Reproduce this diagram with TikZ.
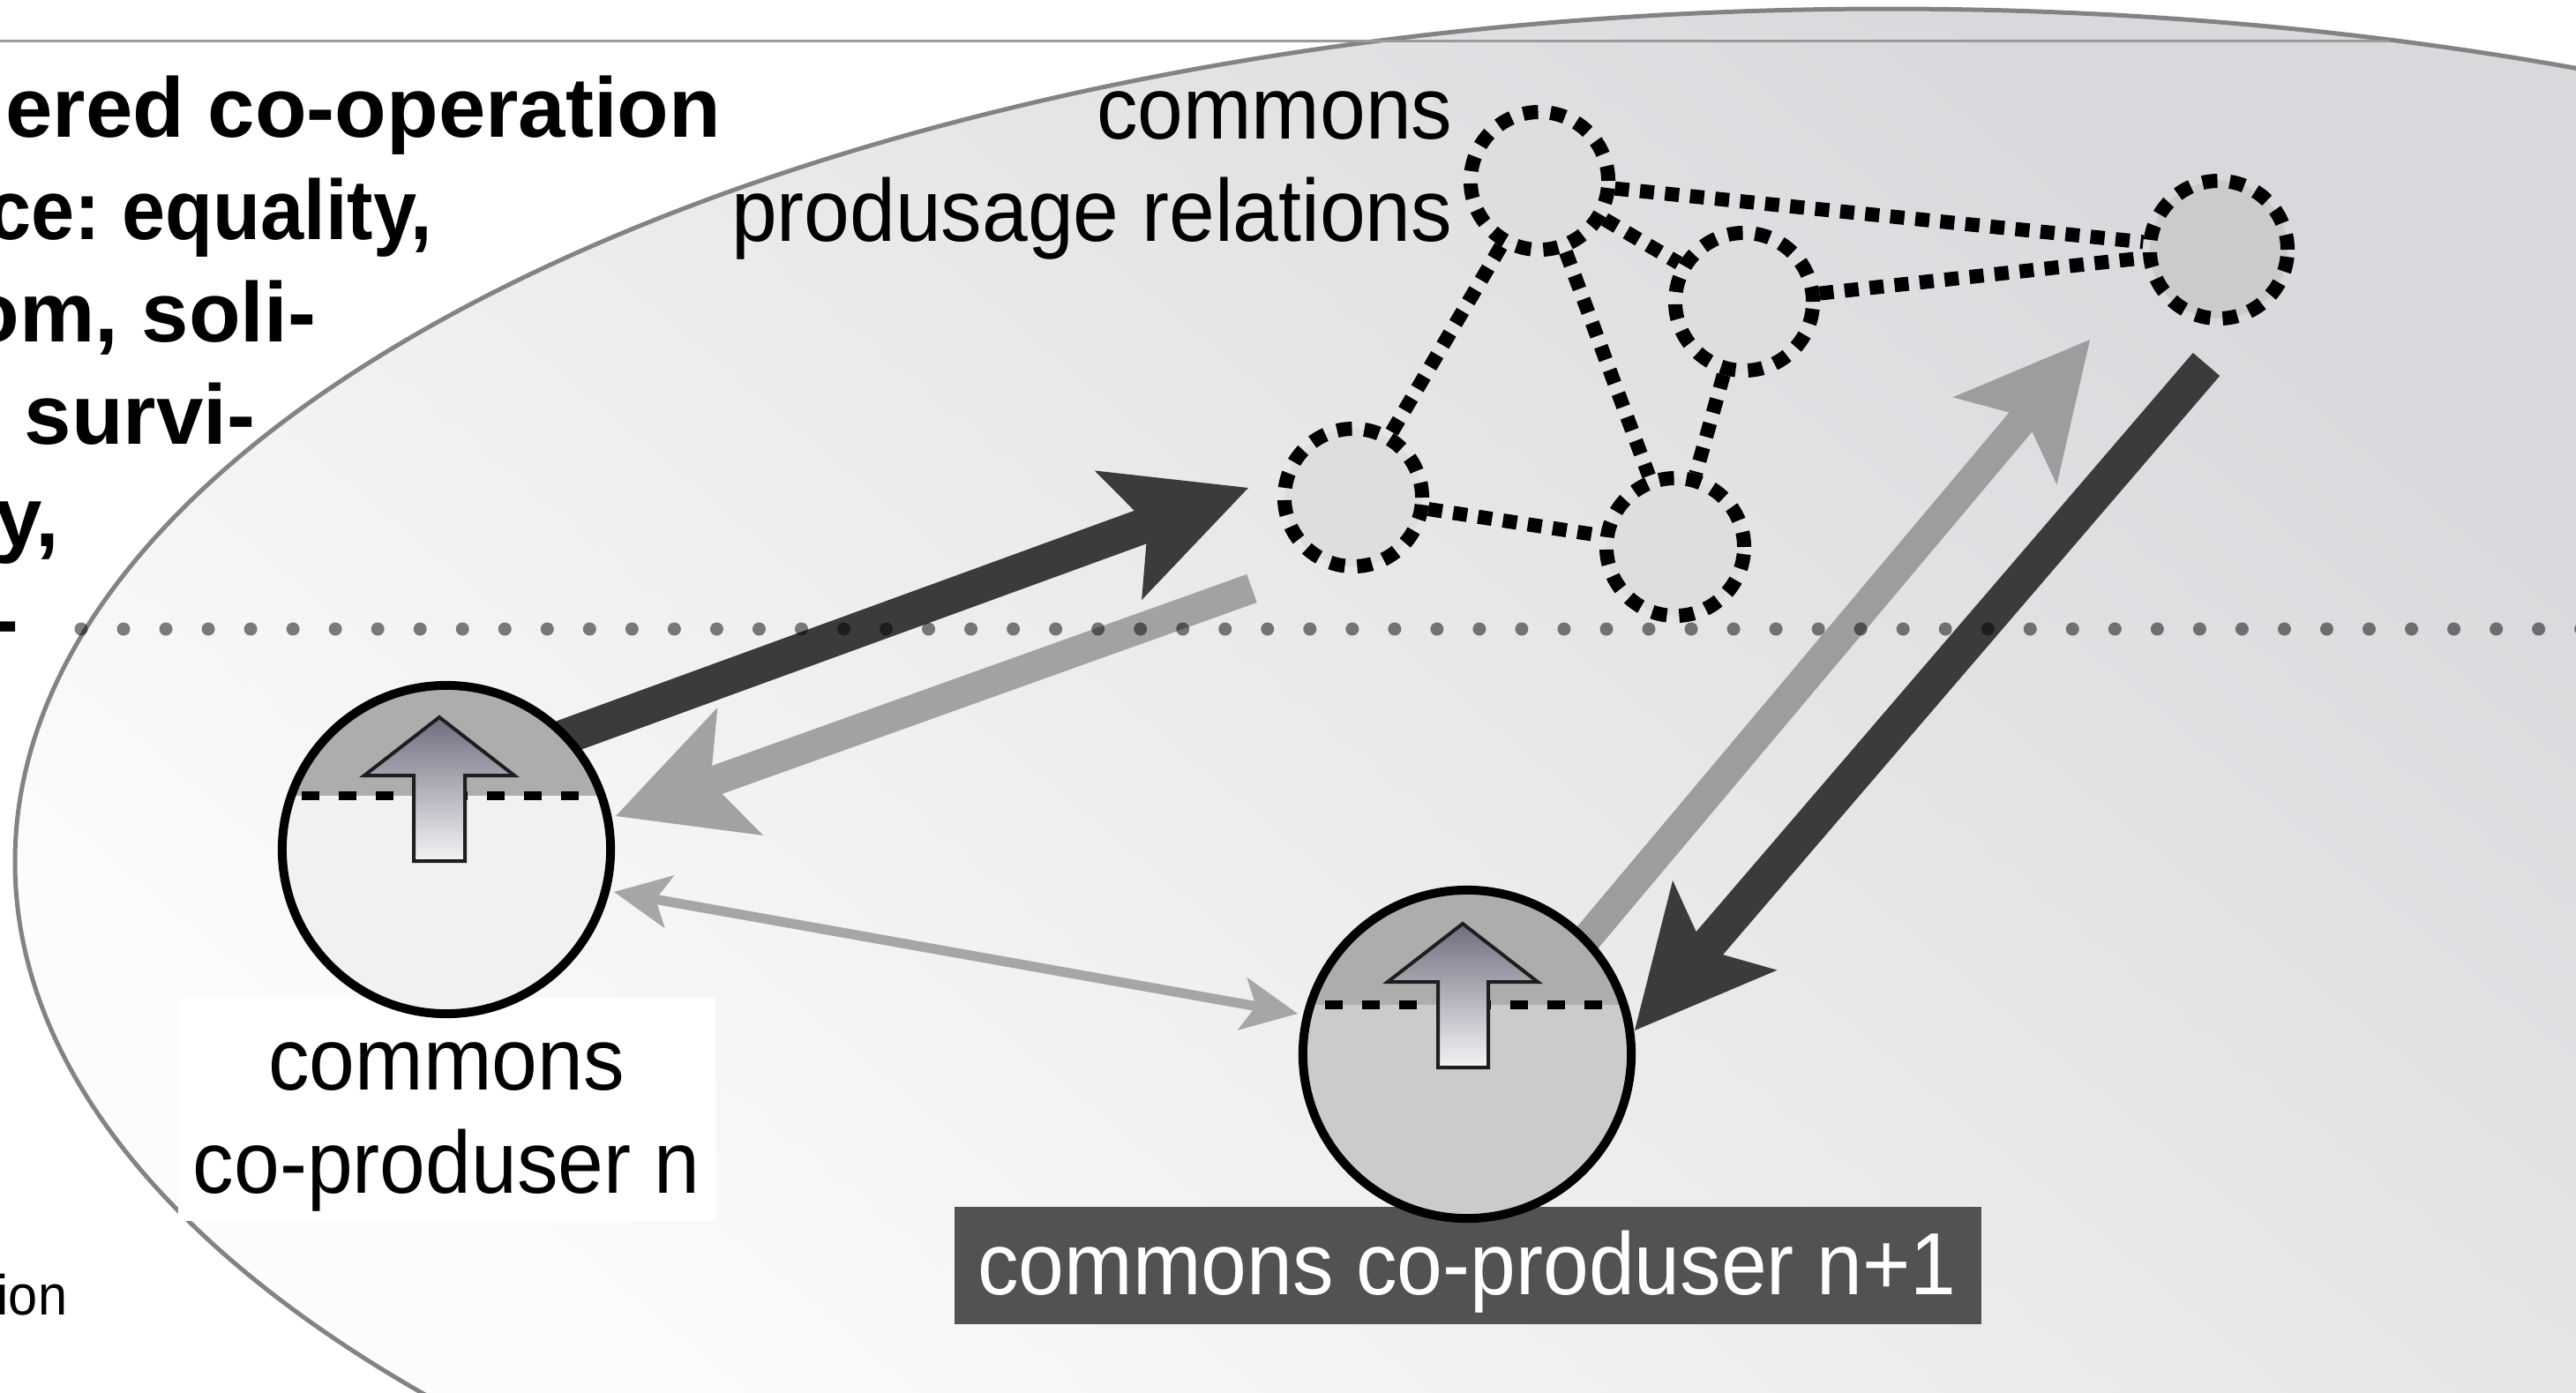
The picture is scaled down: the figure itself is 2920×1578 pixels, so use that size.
\documentclass[tikz,border=0pt]{standalone}
\usepackage{fontspec}
\setmainfont{Liberation Sans}
\newfontfamily\lblfont[FakeStretch=0.93]{Liberation Sans}
\usetikzlibrary{arrows.meta}
\definecolor{ellTop}{HTML}{D9D9DD}
\definecolor{ellBot}{HTML}{FCFCFC}
\definecolor{ellLine}{HTML}{838383}
\definecolor{topLine}{HTML}{9A9A9A}
\definecolor{darkArr}{HTML}{3B3B3B}
\definecolor{lightArr}{HTML}{A2A2A2}
\definecolor{thinArr}{HTML}{A6A6A6}
\definecolor{nodeFill}{HTML}{DEDEE0}
\definecolor{nodeFillB}{HTML}{CBCBCB}
\definecolor{capTop}{HTML}{ADADAD}
\definecolor{lowA}{HTML}{F1F1F1}
\definecolor{lowB}{HTML}{CBCBCB}
\definecolor{boxDark}{HTML}{525252}
\definecolor{upTop}{HTML}{6E6E80}
\definecolor{upBot}{HTML}{F4F4F6}
\definecolor{upLine}{HTML}{1E1E1E}
\frenchspacing
\begin{document}
\begin{tikzpicture}[x=0.01cm, y=-0.01cm,
  lbl/.style={inner sep=0pt, font={\lblfont\fontsize{28.45}{34}\selectfont}},
  ttl/.style={inner sep=0pt, anchor=base east, font={\bfseries\fontsize{27.3}{32}\selectfont}},
  smallnode/.style={circle, draw=black, fill=nodeFill, line width=1.6mm, dash pattern=on 1.7mm off 1.4mm, minimum size=1.56cm, inner sep=0pt},
  rel/.style={draw=black, line width=1.6mm, dash pattern=on 1.6mm off 1.25mm},
  bigcirc/.style={circle, draw=black, line width=1mm, minimum size=3.72cm, inner sep=0pt},
  chord/.style={draw=black, line width=1mm, dash pattern=on 2mm off 2.2mm},
  uparrow/.style={draw=upLine, line width=0.4mm, top color=upTop, bottom color=upBot},
  bigdark/.style={draw=darkArr, line width=4mm, -{Stealth[length=15.7mm, width=15.6mm, inset=3.6mm, line width=0pt]}},
  biglight/.style={draw=lightArr, line width=3.4mm, -{Stealth[length=15mm, width=15.4mm, inset=3.6mm, line width=0pt]}},
  thinlight/.style={draw=thinArr, line width=1.1mm, {Stealth[length=6.4mm, width=6.1mm, inset=1.6mm, line width=0pt]}-{Stealth[length=6.4mm, width=6.1mm, inset=1.6mm, line width=0pt]}},
]
\fill[white] (0,0) rectangle (2920,1578);
\useasboundingbox (0,0) rectangle (2920,1578);
\clip (0,0) rectangle (2920,1578);
% background ellipse
\begin{scope}
  \clip (2140,977) ellipse [x radius=2123, y radius=967];
  \shade[top color=ellTop, bottom color=ellBot, shading angle=-40] (0,0) rectangle (2920,1578);
\end{scope}
\draw[ellLine, line width=0.5mm] (2140,977) ellipse [x radius=2123, y radius=967];
\coordinate (tl0) at (0,46);
\coordinate (tl1) at (2708,46);
\draw[topLine, line width=0.3mm] (tl0) -- (tl1);
% title fragments
\node[ttl] (t1) at (818,155) {ered co-operation};
\node[ttl, xscale=0.92, transform shape] (t2) at (491,271) {ce: equality,};
\node[ttl] (t3) at (359,387) {om, soli-};
\node[ttl] (t4) at (290,503) {, survi-};
\node[ttl] (t5) at (68,619) {y,};
\node[ttl] (t6) at (22,735) {-};
\node[inner sep=0pt, anchor=base west, font={\lblfont\fontsize{18.2}{22}\selectfont}] (ion) at (-4,1490) {ion};
% label boxes
\node[fill=white, inner sep=0pt, anchor=north west, minimum width=6.09cm, minimum height=2.53cm] (boxA) at (201,1130) {};
\node[fill=boxDark, inner sep=0pt, anchor=north west, minimum width=11.64cm, minimum height=1.33cm] (boxB) at (1081,1367) {};
% big arrows
\coordinate (a1s) at (616,844);  \coordinate (a1e) at (1415,553);
\coordinate (a2s) at (1419,667); \coordinate (a2e) at (698,925);
\coordinate (a3s) at (696,1011); \coordinate (a3e) at (1471,1149);
\coordinate (a4s) at (1780,1086); \coordinate (a4e) at (2369,385);
\coordinate (a5s) at (2501,413); \coordinate (a5e) at (1853,1168);
\draw[bigdark] (a1s) -- (a1e);
\draw[biglight] (a2s) -- (a2e);
\draw[thinlight] (a3s) -- (a3e);
\draw[biglight, draw=lightArr!97!black] (a4s) -- (a4e);
\draw[bigdark] (a5s) -- (a5e);
% dotted line
\coordinate (dl) at (92,713); \coordinate (dr) at (2940,713);
\draw[black, opacity=0.5, line width=1.5mm, line cap=round, dash pattern=on 0pt off 4.8mm] (dl) -- (dr);
% produsage relations
\node[smallnode] (n1) at (1745,205) {};
\node[smallnode] (n2) at (1977,342) {};
\node[smallnode, fill=nodeFillB] (n3) at (2515,283) {};
\node[smallnode] (n4) at (1534,564) {};
\node[smallnode] (n5) at (1899,620) {};
\draw[rel] (n1) -- (n3);
\draw[rel] (n1) -- (n2);
\draw[rel] (n1) -- (n4);
\draw[rel] (n1) -- (n5);
\draw[rel] (n2) -- (n3);
\draw[rel] (n2) -- (n5);
\draw[rel] (n4) -- (n5);
% co-produser n
\begin{scope}
  \clip (506,963) circle [radius=186];
  \fill[lowA] (300,760) rectangle (710,1160);
  \fill[capTop] (300,760) rectangle (710,902);
  \draw[chord] (300,902) -- (710,902);
\end{scope}
\node[bigcirc] (c1) at (506,963) {};
\shadedraw[uparrow] (498,813) -- (583,879) -- (527,879) -- (527,976) -- (469,976) -- (469,879) -- (413,879) -- cycle;
% co-produser n+1
\begin{scope}
  \clip (1663,1195) circle [radius=186];
  \fill[lowB] (1460,990) rectangle (1870,1400);
  \fill[capTop] (1460,990) rectangle (1870,1139);
  \draw[chord] (1460,1139) -- (1870,1139);
\end{scope}
\node[bigcirc] (c2) at (1663,1195) {};
\shadedraw[uparrow] (1658,1047) -- (1743,1113) -- (1687,1113) -- (1687,1210) -- (1630,1210) -- (1630,1113) -- (1573,1113) -- cycle;
% labels
\node[lbl, anchor=base east] (lt1) at (1647,157) {commons};
\node[lbl, anchor=base east] (lt2) at (1647,273) {produsage relations};
\node[lbl, anchor=base] (lc1) at (506,1235) {commons};
\node[lbl, anchor=base] (lc2) at (506,1352) {co-produser n};
\node[lbl, anchor=base, text=white] (lc3) at (1663,1467) {commons co-produser n+1};
\end{tikzpicture}
\end{document}
